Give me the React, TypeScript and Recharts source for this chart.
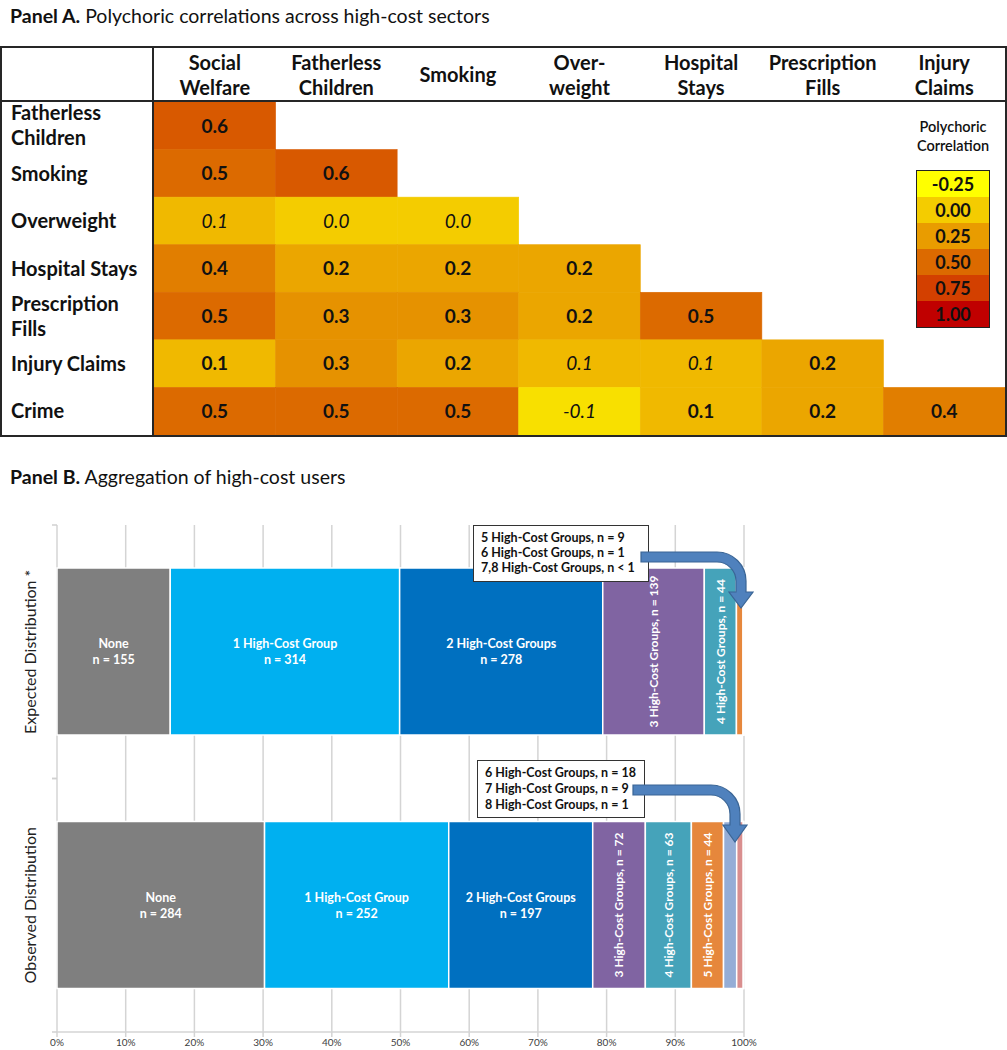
import { ScatterChart, Scatter, XAxis, YAxis, BarChart, Bar, CartesianGrid } from "recharts";

const FONT = "Lato, 'Open Sans', sans-serif";

// ---- Panel A data ----
const sectorCols = [
  "Social\nWelfare",
  "Fatherless\nChildren",
  "Smoking",
  "Over-\nweight",
  "Hospital\nStays",
  "Prescription\nFills",
  "Injury\nClaims",
];
const sectorRows = [
  "Fatherless\nChildren",
  "Smoking",
  "Overweight",
  "Hospital Stays",
  "Prescription\nFills",
  "Injury Claims",
  "Crime",
];
const corrValues = [
  [0.6],
  [0.5, 0.6],
  [0.1, 0.0, 0.0],
  [0.4, 0.2, 0.2, 0.2],
  [0.5, 0.3, 0.3, 0.2, 0.5],
  [0.1, 0.3, 0.2, 0.1, 0.1, 0.2],
  [0.5, 0.5, 0.5, -0.1, 0.1, 0.2, 0.4],
];
// 1 = bold (significant), 0 = italic
const corrSignificant = [
  [1],
  [1, 1],
  [0, 0, 0],
  [1, 1, 1, 1],
  [1, 1, 1, 1, 1],
  [1, 1, 1, 0, 0, 1],
  [1, 1, 1, 0, 1, 1, 1],
];
const legendStops = [-0.25, 0, 0.25, 0.5, 0.75, 1.0];
const legendColors = ["#FFFF00", "#F4CC00", "#E99C00", "#DC6A00", "#D34000", "#C00000"];
const indexTicks = [0, 1, 2, 3, 4, 5, 6];

// ---- Panel B data ----
const distRows = ["Expected Distribution *", "Observed Distribution"];
const groupNames = [
  "None",
  "1 High-Cost Group",
  "2 High-Cost Groups",
  "3 High-Cost Groups",
  "4 High-Cost Groups",
  "5 High-Cost Groups",
  "6 High-Cost Groups",
  "7 High-Cost Groups",
  "8 High-Cost Groups",
];
const groupColors = ["#7F7F7F", "#00B0F0", "#0070C0", "#8064A2", "#45A3BA", "#E6873C", "#95ADD6", "#D98E8E", "#C3D69B"];
const expectedCounts = [155, 314, 278, 139, 44, 9, 1, 0.3, 0.05];
const observedCounts = [284, 252, 197, 72, 63, 44, 18, 9, 1];
const pctTicks = [0, 0.1, 0.2, 0.3, 0.4, 0.5, 0.6, 0.7, 0.8, 0.9, 1];
const expectedNote = ["5 High-Cost Groups, n = 9", "6 High-Cost Groups, n = 1", "7,8 High-Cost Groups, n < 1"];
const observedNote = ["6 High-Cost Groups, n = 18", "7 High-Cost Groups, n = 9", "8 High-Cost Groups, n = 1"];

const distCounts = [expectedCounts, observedCounts];

function hexToRgb(h: string) {
  const n = parseInt(h.slice(1), 16);
  return [(n >> 16) & 255, (n >> 8) & 255, n & 255];
}

function corrColor(v: number) {
  let i = 0;
  while (i < legendStops.length - 2 && v > legendStops[i + 1]) i++;
  const t = Math.max(0, Math.min(1, (v - legendStops[i]) / (legendStops[i + 1] - legendStops[i])));
  const a = hexToRgb(legendColors[i]);
  const b = hexToRgb(legendColors[i + 1]);
  const c = a.map((x, k) => Math.round(x + (b[k] - x) * t));
  return `rgb(${c[0]},${c[1]},${c[2]})`;
}

const heatData = corrValues.flatMap((vals, r) =>
  vals.map((value, c) => ({ row: r, col: c, value, sig: corrSignificant[r][c] }))
);

const HEAT_W = 1003;
const HEAT_H = 387;
const ROW_AXIS_W = 152;
const HEADER_H = 54;
const CELL_W = (HEAT_W - ROW_AXIS_W) / 7;
const CELL_H = (HEAT_H - HEADER_H) / 7;

const HeatCell = (props: any) => {
  const { cx, cy, payload } = props;
  const fill = corrColor(payload.value);
  return (
    <g>
      <rect
        x={cx - CELL_W / 2}
        y={cy - CELL_H / 2}
        width={CELL_W}
        height={CELL_H}
        fill={fill}
        stroke={fill}
        strokeWidth={0.6}
      />
      <text
        x={cx}
        y={cy}
        dy="0.36em"
        textAnchor="middle"
        fontSize={19}
        fontWeight={payload.sig ? 700 : 400}
        fontStyle={payload.sig ? "normal" : "italic"}
        fill="#111"
        fontFamily={FONT}
      >
        {payload.value.toFixed(1)}
      </text>
    </g>
  );
};

const ColTick = (props: any) => {
  const { x, payload } = props;
  const lines = sectorCols[payload.value].split("\n");
  const y0 = HEADER_H / 2 - ((lines.length - 1) * 25) / 2;
  return (
    <g>
      {lines.map((l, i) => (
        <text key={i} x={x} y={y0 + i * 25} dy="0.36em" textAnchor="middle" fontSize={20} fontWeight={700} fill="#111" fontFamily={FONT}>
          {l}
        </text>
      ))}
    </g>
  );
};

const RowTick = (props: any) => {
  const { y, payload } = props;
  const lines = sectorRows[payload.value].split("\n");
  const y0 = y - ((lines.length - 1) * 25) / 2;
  return (
    <g>
      {lines.map((l, i) => (
        <text key={i} x={9} y={y0 + i * 25} dy="0.36em" textAnchor="start" fontSize={20} fontWeight={700} fill="#111" fontFamily={FONT}>
          {l}
        </text>
      ))}
    </g>
  );
};

// ---- Panel B pieces ----
const distData = distRows.map((name, r) => {
  const entry: any = { name, r };
  distCounts[r].forEach((n, g) => (entry[`g${g}`] = n));
  return entry;
});

const HALF_BAND = 507 / 4;

const DistTick = (props: any) => {
  const { y, payload } = props;
  return (
    <g>
      <text
        x={30}
        y={y}
        transform={`rotate(-90, 30, ${y})`}
        textAnchor="middle"
        dy="0.36em"
        fontSize={16}
        fill="#222"
        fontFamily={FONT}
      >
        {payload.value}
      </text>
      <line x1={52} x2={57} y1={y - HALF_BAND} y2={y - HALF_BAND} stroke="#D0D0D0" strokeWidth={1.5} />
      <line x1={52} x2={57} y1={y + HALF_BAND} y2={y + HALF_BAND} stroke="#D0D0D0" strokeWidth={1.5} />
    </g>
  );
};

const makeSegment = (g: number) => (props: any) => {
  const { x, y, width, height, payload } = props;
  if (!width || width <= 0) return <g />;
  const n = distCounts[payload.r][g];
  const cx = x + width / 2;
  const cy = y + height / 2;
  let label = null;
  if (g < 3) {
    label = (
      <text textAnchor="middle" fontSize={12.5} fontWeight={700} fill="#fff" fontFamily={FONT}>
        <tspan x={cx} y={cy - 8} dy="0.36em">{groupNames[g]}</tspan>
        <tspan x={cx} y={cy + 8} dy="0.36em">{`n = ${n}`}</tspan>
      </text>
    );
  } else if (width > 20) {
    label = (
      <text
        x={cx}
        y={cy}
        dy="0.36em"
        transform={`rotate(-90, ${cx}, ${cy})`}
        textAnchor="middle"
        fontSize={12}
        fontWeight={700}
        fill="#fff"
        fontFamily={FONT}
      >
        {`${groupNames[g]}, n = ${n}`}
      </text>
    );
  }
  return (
    <g>
      <rect x={x} y={y} width={width} height={height} fill={groupColors[g]} stroke="#fff" strokeWidth={1.5} />
      {label}
    </g>
  );
};

function arrowPath(x0: number, y: number, xc: number, headY: number, tipY: number) {
  const t = 5;
  const R = 24;
  const hw = 12;
  return [
    `M ${x0} ${y - t}`,
    `L ${xc - R} ${y - t}`,
    `A ${R + t} ${R + t} 0 0 1 ${xc + t} ${y + R}`,
    `L ${xc + t} ${headY}`,
    `L ${xc + hw} ${headY}`,
    `L ${xc} ${tipY}`,
    `L ${xc - hw} ${headY}`,
    `L ${xc - t} ${headY}`,
    `L ${xc - t} ${y + R}`,
    `A ${R - t} ${R - t} 0 0 0 ${xc - R} ${y + t}`,
    `L ${x0} ${y + t}`,
    "Z",
  ].join(" ");
}

const NoteBox = ({ lines, left, top, width, height, gap }: any) => (
  <div
    style={{
      position: "absolute",
      left,
      top,
      width,
      height,
      boxSizing: "border-box",
      border: "1.5px solid #333",
      background: "#fff",
      padding: "4px 0 0 7px",
      fontFamily: FONT,
      fontSize: 12.5,
      fontWeight: 700,
      lineHeight: `${gap}px`,
      color: "#111",
      whiteSpace: "nowrap",
    }}
  >
    {lines.map((l: string, i: number) => (
      <div key={i}>{l}</div>
    ))}
  </div>
);

export default function App() {
  return (
    <div style={{ position: "absolute", left: 0, top: 0, width: 1007, height: 1050, background: "#fff", fontFamily: FONT, color: "#111" }}>
      <div style={{ position: "absolute", left: 10, top: 4, fontSize: 19.5, whiteSpace: "nowrap" }}>
        <b>Panel A.</b> Polychoric correlations across high-cost sectors
      </div>

      <div
        style={{
          position: "absolute",
          left: 0,
          top: 46,
          width: 1007,
          height: 391,
          boxSizing: "border-box",
          border: "2px solid #262626",
        }}
      >
        <ScatterChart width={HEAT_W} height={HEAT_H} margin={{ top: 0, right: 0, bottom: 0, left: 0 }}>
          <XAxis
            type="number"
            dataKey="col"
            orientation="top"
            domain={[-0.5, 6.5]}
            ticks={indexTicks}
            height={HEADER_H}
            axisLine={false}
            tickLine={false}
            tick={<ColTick />}
            interval={0}
          />
          <YAxis
            type="number"
            dataKey="row"
            reversed
            domain={[-0.5, 6.5]}
            ticks={indexTicks}
            width={ROW_AXIS_W}
            axisLine={false}
            tickLine={false}
            tick={<RowTick />}
            interval={0}
          />
          <Scatter data={heatData} shape={<HeatCell />} isAnimationActive={false} />
        </ScatterChart>
        <div style={{ position: "absolute", left: 150, top: 0, width: 2, height: 387, background: "#262626" }} />
        <div style={{ position: "absolute", left: 0, top: 52, width: 1003, height: 2, background: "#262626" }} />
      </div>

      <div
        style={{
          position: "absolute",
          left: 893,
          top: 117,
          width: 120,
          textAlign: "center",
          fontSize: 14.5,
          fontWeight: 600,
          lineHeight: "19px",
        }}
      >
        Polychoric
        <br />
        Correlation
      </div>
      <div style={{ position: "absolute", left: 916, top: 170, width: 74, border: "1.5px solid #222", boxSizing: "border-box" }}>
        {legendStops.map((s, i) => (
          <div
            key={i}
            style={{
              background: legendColors[i],
              height: 26,
              lineHeight: "26px",
              textAlign: "center",
              fontSize: 18,
              fontWeight: 700,
            }}
          >
            {s.toFixed(2)}
          </div>
        ))}
      </div>

      <div style={{ position: "absolute", left: 10, top: 465, fontSize: 19.5, whiteSpace: "nowrap" }}>
        <b>Panel B.</b> Aggregation of high-cost users
      </div>

      <div style={{ position: "absolute", left: 0, top: 500 }}>
        <BarChart
          width={1007}
          height={550}
          data={distData}
          layout="vertical"
          stackOffset="expand"
          barSize={167}
          margin={{ top: 25, right: 263, bottom: 0, left: 0 }}
        >
          <CartesianGrid horizontal={false} vertical stroke="#D4D4D4" strokeWidth={1.5} />
          <XAxis
            type="number"
            domain={[0, 1]}
            ticks={pctTicks}
            height={18}
            interval={0}
            tickFormatter={(v) => `${Math.round(v * 100)}%`}
            tick={{ fontSize: 10, fill: "#404040", fontFamily: FONT }}
            axisLine={{ stroke: "#D4D4D4", strokeWidth: 1.5 }}
            tickLine={{ stroke: "#D4D4D4", strokeWidth: 1.5 }}
            tickSize={5}
          />
          <YAxis type="category" dataKey="name" width={57} axisLine={false} tickLine={false} tick={<DistTick />} />
          {groupNames.map((name, g) => (
            <Bar
              key={name}
              dataKey={`g${g}`}
              name={name}
              stackId="a"
              fill={groupColors[g]}
              shape={makeSegment(g)}
              isAnimationActive={false}
            />
          ))}
        </BarChart>
      </div>

      <NoteBox lines={expectedNote} left={473} top={525} width={176} height={57} gap={15} />
      <NoteBox lines={observedNote} left={477} top={760} width={168} height={58} gap={16} />

      <svg style={{ position: "absolute", left: 0, top: 0, pointerEvents: "none" }} width={1007} height={1050}>
        <path d={arrowPath(641, 557, 741, 592, 608)} fill="#4F81BD" stroke="#3A6595" strokeWidth={1.2} />
        <path d={arrowPath(633, 790, 735, 825, 842)} fill="#4F81BD" stroke="#3A6595" strokeWidth={1.2} />
      </svg>
    </div>
  );
}
